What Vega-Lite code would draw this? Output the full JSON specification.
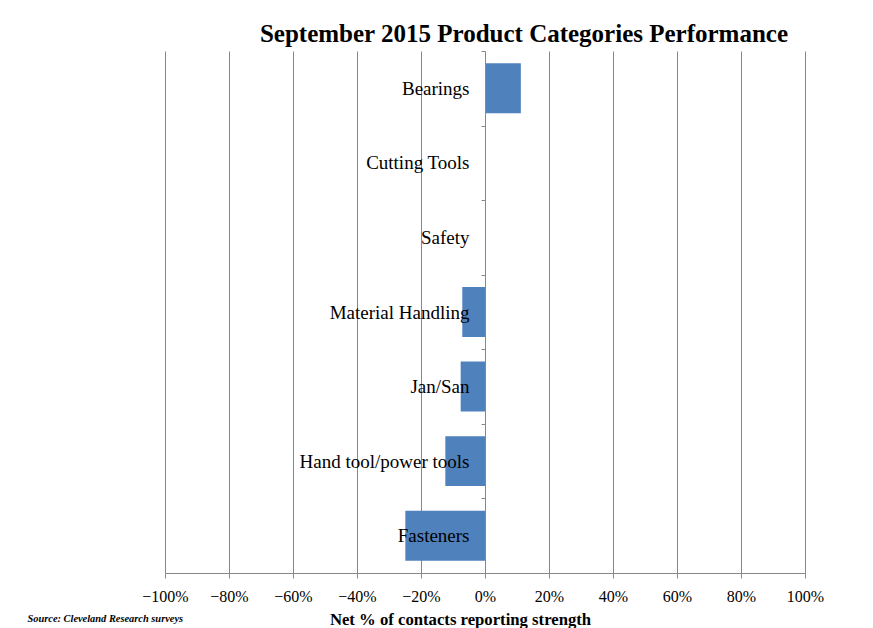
{
  "$schema": "https://vega.github.io/schema/vega-lite/v6.json",
  "width": 640,
  "height": 522,
  "autosize": {"type": "none"},
  "padding": {"left": 165, "top": 51, "right": 68, "bottom": 55},
  "background": "white",
  "title": {
    "text": "September 2015 Product Categories Performance",
    "font": "Liberation Serif",
    "fontSize": 25,
    "fontWeight": "bold",
    "color": "black",
    "anchor": "middle",
    "frame": "group",
    "dx": 39,
    "dy": 35,
    "baseline": "alphabetic",
    "offset": 10
  },
  "data": {
    "values": [
      {"category": "Bearings", "net": 0.112},
      {"category": "Cutting Tools", "net": 0},
      {"category": "Safety", "net": 0},
      {"category": "Material Handling", "net": -0.071},
      {"category": "Jan/San", "net": -0.076},
      {"category": "Hand tool/power tools", "net": -0.124},
      {"category": "Fasteners", "net": -0.249}
    ]
  },
  "mark": {"type": "bar", "color": "#4F81BD", "height": {"band": 0.67}},
  "encoding": {
    "y": {
      "field": "category",
      "type": "nominal",
      "sort": null,
      "scale": {"paddingInner": 0, "paddingOuter": 0},
      "axis": {
        "offset": -320,
        "zindex": 1,
        "title": "Source: Cleveland Research surveys",
        "titleFont": "Liberation Serif",
        "titleFontSize": 10.4,
        "titleFontStyle": "italic",
        "titleFontWeight": "bold",
        "titleColor": "black",
        "titleAngle": 0,
        "titleAlign": "left",
        "titleBaseline": "alphabetic",
        "titleX": -458,
        "titleY": 570,
        "labelFont": "Liberation Serif",
        "labelFontSize": 19,
        "labelColor": "black",
        "labelPadding": 12,
        "labelOverlap": false,
        "tickBand": "extent",
        "tickSize": 4,
        "tickColor": "#888888",
        "domainColor": "#888888",
        "grid": false
      }
    },
    "x": {
      "field": "net",
      "type": "quantitative",
      "scale": {"domain": [-1, 1], "nice": false},
      "axis": {
        "values": [-1, -0.8, -0.6, -0.4, -0.2, 0, 0.2, 0.4, 0.6, 0.8, 1],
        "format": ".0%",
        "labelOverlap": false,
        "labelFlush": false,
        "title": "Net % of contacts reporting strength",
        "titleFont": "Liberation Serif",
        "titleFontSize": 16.7,
        "titleFontWeight": "bold",
        "titleColor": "black",
        "titleX": 295,
        "titleY": 51,
        "titleBaseline": "alphabetic",
        "titleAlign": "center",
        "labelFont": "Liberation Serif",
        "labelFontSize": 16,
        "labelColor": "black",
        "labelPadding": 10,
        "tickSize": 5,
        "tickColor": "#888888",
        "domainColor": "#888888",
        "gridColor": "#888888",
        "gridOpacity": 1,
        "grid": true
      }
    }
  },
  "config": {"view": {"stroke": null}}
}
